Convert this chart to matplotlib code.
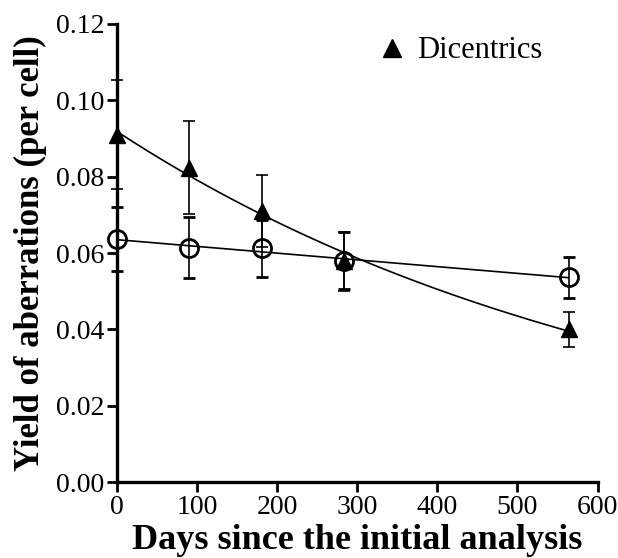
import numpy as np
import matplotlib
matplotlib.use("Agg")
import matplotlib.pyplot as plt
from matplotlib.lines import Line2D

# data
days = [0, 90, 181, 283, 564]
dic_yield = [0.0910, 0.0823, 0.0710, 0.0578, 0.0400]
dic_err = [0.0143, 0.0122, 0.0095, 0.0078, 0.0045]
circ_yield = [0.0636, 0.0614, 0.0612, 0.0580, 0.0536]
circ_err = [0.0084, 0.0080, 0.0075, 0.0074, 0.0053]

plt.rcParams["font.family"] = ["Liberation Serif", "DejaVu Serif"]

fig = plt.figure(figsize=(6.18, 5.58), dpi=100)
ax = fig.add_axes([0.189, 0.136, 0.778, 0.821])

t = np.linspace(0, max(days), 200)

# exponential fit for dicentrics
k, b = np.polyfit(days, np.log(dic_yield), 1)
ax.plot(t, np.exp(b + k * t), color="black", lw=1.2, zorder=2)
# linear fit for the open circles
m, c = np.polyfit(days, circ_yield, 1)
ax.plot(t, m * t + c, color="black", lw=1.2, zorder=2)

ax.errorbar(days, circ_yield, yerr=circ_err, fmt="o", ms=13, mfc="none",
            mec="black", mew=2.0, ecolor="black", elinewidth=1.2, capsize=4,
            capthick=1.2, zorder=3, clip_on=False)
ax.errorbar(days, dic_yield, yerr=dic_err, fmt="^", ms=12, mfc="black",
            mec="black", ecolor="black", elinewidth=1.2, capsize=4,
            capthick=1.2, zorder=4, clip_on=False)

ax.set_xlim(0, 600)
ax.set_ylim(0, 0.12)
ax.set_xticks(np.arange(0, 601, 100))
ax.set_yticks(np.arange(0, 0.121, 0.02))
ax.yaxis.set_major_formatter(matplotlib.ticker.FormatStrFormatter("%.2f"))

for s in ["top", "right"]:
    ax.spines[s].set_visible(False)
for s in ["left", "bottom"]:
    ax.spines[s].set_linewidth(2.4)
ax.tick_params(direction="out", length=7, width=2, labelsize=20, pad=2)

ax.set_xlabel("Days since the initial analysis", fontsize=26, fontweight="bold", labelpad=3)
ax.set_ylabel("Yield of aberrations (per cell)", fontsize=25, fontweight="bold", labelpad=6)

handle = Line2D([], [], marker="^", ls="none", color="black", ms=13)
ax.legend([handle], ["Dicentrics"], loc="upper right", frameon=False,
          fontsize=22, handletextpad=-0.2, borderaxespad=0.0,
          bbox_to_anchor=(0.91, 1.0))

fig.savefig("out.png", dpi=100)
